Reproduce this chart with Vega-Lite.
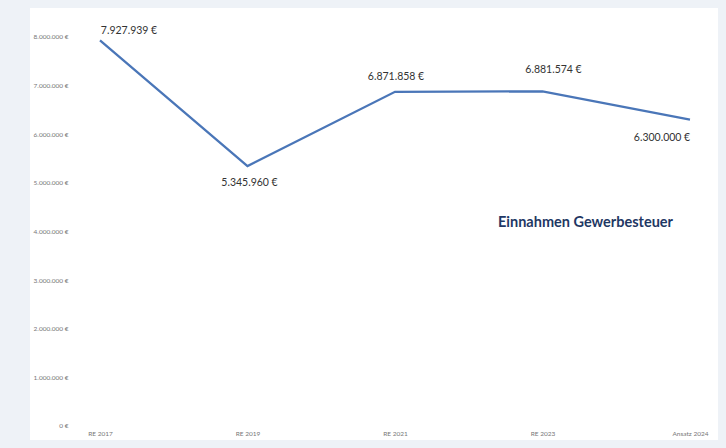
{
  "$schema": "https://vega.github.io/schema/vega-lite/v6.json",
  "width": 688,
  "height": 432,
  "autosize": {"type": "none"},
  "padding": {"left": 30, "top": 8, "right": 8, "bottom": 8},
  "background": "#eef2f7",
  "config": {
    "view": {"fill": "white", "stroke": null},
    "font": "Lato",
    "locale": {
      "number": {"decimal": ",", "thousands": ".", "grouping": [3], "currency": ["", " €"]}
    }
  },
  "data": {
    "values": [
      {"i": 0, "jahr": "RE 2017", "wert": 7927939},
      {"i": 1, "jahr": "RE 2019", "wert": 5345960},
      {"i": 2, "jahr": "RE 2021", "wert": 6871858},
      {"i": 3, "jahr": "RE 2023", "wert": 6881574},
      {"i": 4, "jahr": "Ansatz 2024", "wert": 6300000}
    ]
  },
  "encoding": {
    "x": {
      "field": "jahr", "type": "ordinal", "sort": null,
      "scale": {"type": "point", "range": [70, 660], "padding": 0},
      "axis": {"title": null, "domain": false, "ticks": false, "labelAngle": 0, "offset": -12, "labelPadding": 2, "labelFontSize": 6.5, "labelColor": "#777777"}
    },
    "y": {
      "field": "wert", "type": "quantitative",
      "scale": {"domain": [-288000, 8596000], "nice": false, "zero": false},
      "axis": {"title": null, "domain": false, "ticks": false, "grid": false, "values": [0, 1000000, 2000000, 3000000, 4000000, 5000000, 6000000, 7000000, 8000000], "format": "$,.0f", "offset": -40, "labelPadding": 2, "labelFontSize": 6.5, "labelColor": "#777777"}
    }
  },
  "layer": [
    {"mark": {"type": "line", "color": "#4a76b8", "strokeWidth": 2.3}},
    {"transform": [{"filter": "datum.i == 0"}], "mark": {"type": "text", "dx": 29, "dy": -9, "fontSize": 10.5, "color": "#333333"}, "encoding": {"text": {"field": "wert", "type": "quantitative", "format": "$,.0f"}}},
    {"transform": [{"filter": "datum.i == 1"}], "mark": {"type": "text", "dx": 2, "dy": 17, "fontSize": 10.5, "color": "#333333"}, "encoding": {"text": {"field": "wert", "type": "quantitative", "format": "$,.0f"}}},
    {"transform": [{"filter": "datum.i == 2"}], "mark": {"type": "text", "dx": 1, "dy": -15, "fontSize": 10.5, "color": "#333333"}, "encoding": {"text": {"field": "wert", "type": "quantitative", "format": "$,.0f"}}},
    {"transform": [{"filter": "datum.i == 3"}], "mark": {"type": "text", "dx": 11, "dy": -21, "fontSize": 10.5, "color": "#333333"}, "encoding": {"text": {"field": "wert", "type": "quantitative", "format": "$,.0f"}}},
    {"transform": [{"filter": "datum.i == 4"}], "mark": {"type": "text", "dx": -28, "dy": 18, "fontSize": 10.5, "color": "#333333"}, "encoding": {"text": {"field": "wert", "type": "quantitative", "format": "$,.0f"}}},
    {
      "transform": [{"filter": "datum.i == 3"}],
      "mark": {"type": "text", "dx": 43, "fontSize": 14.5, "fontWeight": "bold", "color": "#1f3864"},
      "encoding": {
        "y": {"datum": 4180000, "type": "quantitative"},
        "text": {"value": "Einnahmen Gewerbesteuer"}
      }
    }
  ]
}
